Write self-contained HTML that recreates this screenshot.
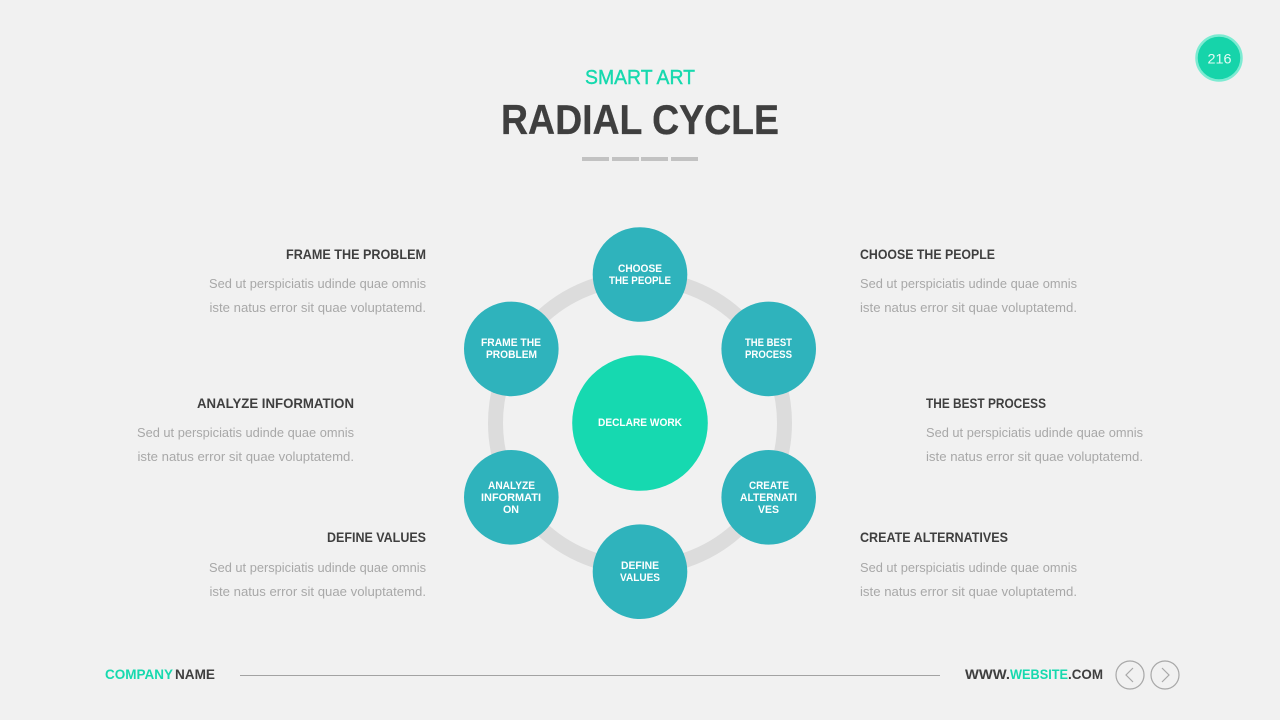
<!DOCTYPE html>
<html>
<head>
<meta charset="utf-8">
<style>
html,body{margin:0;padding:0;background:#f1f1f1;width:1280px;height:720px;overflow:hidden}
svg{display:block}
text{font-family:"Liberation Sans",sans-serif}
.h{font-size:14px;font-weight:bold;fill:#3f3f3f}
.b{font-size:13px;fill:#a8a8a8}
.n{font-size:11px;font-weight:bold;fill:#fff}
.f{font-size:14px;font-weight:bold;fill:#3f3f3f}
.g{fill:#16d9ae}
</style>
</head>
<body>
<svg width="1280" height="720" viewBox="0 0 1280 720" xmlns="http://www.w3.org/2000/svg">
<rect width="1280" height="720" fill="#f1f1f1"/>

<circle cx="1219" cy="58" r="22.500" fill="#16d4aa" stroke="#7debd2" stroke-width="2.500"/>
<text x="1207.500" y="63.500" font-size="14" fill="#e4fbf5" textLength="24" lengthAdjust="spacingAndGlyphs">216</text>

<text x="585" y="84" font-size="20" class="g" stroke="#16d9ae" stroke-width="0.400" textLength="110" lengthAdjust="spacingAndGlyphs">SMART ART</text>
<text x="501" y="134" font-size="42" font-weight="bold" fill="#3f3f3f" stroke="#3f3f3f" stroke-width="0.300" textLength="278" lengthAdjust="spacingAndGlyphs">RADIAL CYCLE</text>
<g fill="#c2c2c2">
<rect x="582" y="157" width="27" height="4"/>
<rect x="612" y="157" width="27" height="4"/>
<rect x="641" y="157" width="27" height="4"/>
<rect x="671" y="157" width="27" height="4"/>
</g>

<circle cx="640" cy="423" r="144.500" fill="none" stroke="#dcdcdc" stroke-width="15"/>
<circle cx="640" cy="423" r="67.800" fill="#16d9b0"/>
<g fill="#2fb3bc">
<circle cx="640" cy="274.500" r="47.300"/>
<circle cx="768.700" cy="348.900" r="47.300"/>
<circle cx="768.700" cy="497.300" r="47.300"/>
<circle cx="640" cy="571.700" r="47.300"/>
<circle cx="511.300" cy="497.300" r="47.300"/>
<circle cx="511.300" cy="348.900" r="47.300"/>
</g>

<g class="n">
<text class="n" x="598" y="426" textLength="84" lengthAdjust="spacingAndGlyphs">DECLARE WORK</text>
<text class="n" x="618" y="272" textLength="44" lengthAdjust="spacingAndGlyphs">CHOOSE</text>
<text class="n" x="609" y="284" textLength="62" lengthAdjust="spacingAndGlyphs">THE PEOPLE</text>
<text class="n" x="481" y="346" textLength="60" lengthAdjust="spacingAndGlyphs">FRAME THE</text>
<text class="n" x="486" y="358" textLength="51" lengthAdjust="spacingAndGlyphs">PROBLEM</text>
<text class="n" x="745" y="346" textLength="47" lengthAdjust="spacingAndGlyphs">THE BEST</text>
<text class="n" x="745" y="358" textLength="47" lengthAdjust="spacingAndGlyphs">PROCESS</text>
<text class="n" x="488" y="489" textLength="47" lengthAdjust="spacingAndGlyphs">ANALYZE</text>
<text class="n" x="481" y="501" textLength="60" lengthAdjust="spacingAndGlyphs">INFORMATI</text>
<text class="n" x="503" y="513" textLength="16" lengthAdjust="spacingAndGlyphs">ON</text>
<text class="n" x="749" y="489" textLength="40" lengthAdjust="spacingAndGlyphs">CREATE</text>
<text class="n" x="740" y="501" textLength="57" lengthAdjust="spacingAndGlyphs">ALTERNATI</text>
<text class="n" x="758" y="513" textLength="21" lengthAdjust="spacingAndGlyphs">VES</text>
<text class="n" x="621" y="569" textLength="38" lengthAdjust="spacingAndGlyphs">DEFINE</text>
<text class="n" x="620" y="581" textLength="40" lengthAdjust="spacingAndGlyphs">VALUES</text>
</g>

<text class="h" x="286" y="259" textLength="140" lengthAdjust="spacingAndGlyphs">FRAME THE PROBLEM</text>
<text class="b" x="209" y="288" textLength="217" lengthAdjust="spacingAndGlyphs">Sed ut perspiciatis udinde quae omnis</text>
<text class="b" x="209.500" y="312" textLength="216.500" lengthAdjust="spacingAndGlyphs">iste natus error sit quae voluptatemd.</text>

<text class="h" x="197" y="408" textLength="157" lengthAdjust="spacingAndGlyphs">ANALYZE INFORMATION</text>
<text class="b" x="137" y="437" textLength="217" lengthAdjust="spacingAndGlyphs">Sed ut perspiciatis udinde quae omnis</text>
<text class="b" x="137.500" y="461" textLength="216.500" lengthAdjust="spacingAndGlyphs">iste natus error sit quae voluptatemd.</text>

<text class="h" x="327" y="542" textLength="99" lengthAdjust="spacingAndGlyphs">DEFINE VALUES</text>
<text class="b" x="209" y="572" textLength="217" lengthAdjust="spacingAndGlyphs">Sed ut perspiciatis udinde quae omnis</text>
<text class="b" x="209.500" y="596" textLength="216.500" lengthAdjust="spacingAndGlyphs">iste natus error sit quae voluptatemd.</text>

<text class="h" x="860" y="259" textLength="135" lengthAdjust="spacingAndGlyphs">CHOOSE THE PEOPLE</text>
<text class="b" x="860" y="288" textLength="217" lengthAdjust="spacingAndGlyphs">Sed ut perspiciatis udinde quae omnis</text>
<text class="b" x="860" y="312" textLength="217" lengthAdjust="spacingAndGlyphs">iste natus error sit quae voluptatemd.</text>

<text class="h" x="926" y="408" textLength="120" lengthAdjust="spacingAndGlyphs">THE BEST PROCESS</text>
<text class="b" x="926" y="437" textLength="217" lengthAdjust="spacingAndGlyphs">Sed ut perspiciatis udinde quae omnis</text>
<text class="b" x="926" y="461" textLength="217" lengthAdjust="spacingAndGlyphs">iste natus error sit quae voluptatemd.</text>

<text class="h" x="860" y="542" textLength="148" lengthAdjust="spacingAndGlyphs">CREATE ALTERNATIVES</text>
<text class="b" x="860" y="572" textLength="217" lengthAdjust="spacingAndGlyphs">Sed ut perspiciatis udinde quae omnis</text>
<text class="b" x="860" y="596" textLength="217" lengthAdjust="spacingAndGlyphs">iste natus error sit quae voluptatemd.</text>

<text class="f g" x="105" y="679" style="fill:#16d9ae" textLength="68" lengthAdjust="spacingAndGlyphs">COMPANY</text>
<text class="f" x="175" y="679" textLength="40" lengthAdjust="spacingAndGlyphs">NAME</text>
<line x1="240" y1="675.500" x2="940" y2="675.500" stroke="#a3a3a3" stroke-width="1"/>
<text class="f" x="965" y="679" textLength="45" lengthAdjust="spacingAndGlyphs">WWW.</text>
<text class="f" x="1010" y="679" style="fill:#16d9ae" textLength="58" lengthAdjust="spacingAndGlyphs">WEBSITE</text>
<text class="f" x="1068" y="679" textLength="35" lengthAdjust="spacingAndGlyphs">.COM</text>

<g fill="none" stroke="#a8a8a8" stroke-width="1.200">
<circle cx="1130" cy="675" r="14"/>
<circle cx="1165" cy="675" r="14"/>
<polyline points="1133,668 1126,675 1133,682"/>
<polyline points="1162,668 1169,675 1162,682"/>
</g>
</svg>
</body>
</html>
